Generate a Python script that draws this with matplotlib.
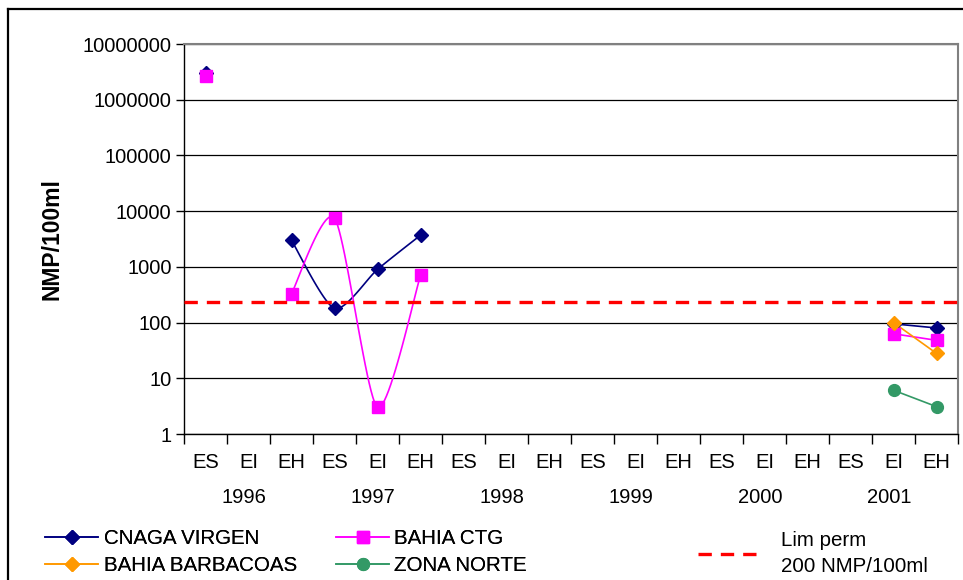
import numpy as np
import matplotlib
matplotlib.use('Agg')
import matplotlib.pyplot as plt
from matplotlib.lines import Line2D
from matplotlib.transforms import blended_transform_factory

plt.rcParams['font.family'] = ['Liberation Sans', 'DejaVu Sans']

# categories: season codes per year
seasons = ['ES', 'EI', 'EH']
years = ['1996', '1997', '1998', '1999', '2000', '2001']
tick_labels = seasons * len(years)

nan = np.nan
# NMP/100ml per campaign (18 campaigns, nan = no sample)
cnaga_virgen = [3000000, nan, 3000, 180, 900, 3700,
                nan, nan, nan, nan, nan, nan, nan, nan, nan, nan, 95, 80]
bahia_ctg = [2700000, nan, 330, 7500, 3, 700,
             nan, nan, nan, nan, nan, nan, nan, nan, nan, nan, 63, 48]
bahia_barbacoas = [nan, nan, nan, nan, nan, nan,
                   nan, nan, nan, nan, nan, nan, nan, nan, nan, nan, 100, 28]
zona_norte = [nan, nan, nan, nan, nan, nan,
              nan, nan, nan, nan, nan, nan, nan, nan, nan, nan, 6.1, 3.1]
lim_perm = 230


def smooth_segments(vals, n=24, k_t=1 / 8):
    # excel-like smoothed line: bezier through each run of points in (x, log y)
    vals = np.asarray(vals, float)
    xs = np.arange(len(vals))
    runs, cur = [], []
    for i, v in enumerate(vals):
        if np.isnan(v):
            if cur:
                runs.append(cur)
            cur = []
        else:
            cur.append(i)
    if cur:
        runs.append(cur)
    out = []
    for r in runs:
        if len(r) < 2:
            continue
        px = xs[r].astype(float)
        py = np.log10(vals[r])
        m = len(r) - 1
        cx, cy = [], []
        for k in range(m):
            a, b = max(k - 1, 0), min(k + 2, m)
            c1 = (px[k] + (px[k + 1] - px[a]) * k_t, py[k] + (py[k + 1] - py[a]) * k_t)
            c2 = (px[k + 1] - (px[b] - px[k]) * k_t, py[k + 1] - (py[b] - py[k]) * k_t)
            t = np.linspace(0, 1, n)
            w0, w1, w2, w3 = (1 - t) ** 3, 3 * (1 - t) ** 2 * t, 3 * (1 - t) * t ** 2, t ** 3
            cx.extend(w0 * px[k] + w1 * c1[0] + w2 * c2[0] + w3 * px[k + 1])
            cy.extend(w0 * py[k] + w1 * c1[1] + w2 * c2[1] + w3 * py[k + 1])
        out.append((np.array(cx), 10 ** np.array(cy)))
    return out


fig = plt.figure(figsize=(9.63, 5.8), dpi=100)
W, H = 963, 580
ax = fig.add_axes([184 / W, (H - 434) / H, (958 - 184) / W, (434 - 44) / H])

x = np.arange(len(tick_labels))
series = [
    ('CNAGA VIRGEN', cnaga_virgen, '#000080', 'D', 7, True),
    ('BAHIA CTG', bahia_ctg, '#FF00FF', 's', 8.5, True),
    ('BAHIA BARBACOAS', bahia_barbacoas, '#FF9900', 'D', 7, False),
    ('ZONA NORTE', zona_norte, '#339966', 'o', 8.5, False),
]
handles = {}
for name, vals, col, mk, ms, smooth in series:
    for sx, sy in smooth_segments(vals):
        ax.plot(sx, sy, color=col, lw=1.2, zorder=3)
    ax.plot(x, vals, ls='none', marker=mk, ms=ms, color=col,
            markeredgecolor=col, zorder=4)
    handles[name] = Line2D([], [], color=col, lw=1.2, marker=mk, ms=ms)

ax.axhline(lim_perm, color='#FF0000', lw=2.4, dashes=(4, 2.7), zorder=5)

ax.set_yscale('log')
ax.set_ylim(1, 1e7)
ax.set_yticks([10 ** k for k in range(8)])
ax.set_yticklabels([str(10 ** k) for k in range(8)])
ax.yaxis.set_minor_locator(matplotlib.ticker.NullLocator())
ax.grid(axis='y', which='major', color='#000000', lw=0.9)
ax.set_axisbelow(True)

ax.set_xlim(-0.5, len(tick_labels) - 0.5)
ax.set_xticks(np.arange(-0.5, len(tick_labels), 1))
ax.set_xticklabels([])
ax.set_xticks(x, minor=True)
ax.set_xticklabels(tick_labels, minor=True)
ax.tick_params(axis='x', which='minor', length=0, pad=14, labelsize=14.5)
ax.tick_params(axis='x', which='major', length=7, width=1, direction='out')
ax.tick_params(axis='y', length=6, width=1, labelsize=14.5, pad=3)

for s in ['top', 'right']:
    ax.spines[s].set_color('#808080')
    ax.spines[s].set_linewidth(1.5)
for s in ['left', 'bottom']:
    ax.spines[s].set_color('#000000')
    ax.spines[s].set_linewidth(1)

trans = blended_transform_factory(ax.transData, ax.transAxes)
for i, yr in enumerate(years):
    ax.text(3 * i + 1 - 0.1, -0.162, yr, transform=trans, ha='center',
            va='center', fontsize=14.5)

ax.set_ylabel('NMP/100ml', fontsize=16.5, fontweight='bold', labelpad=14)

leg1 = fig.legend([handles['CNAGA VIRGEN'], handles['BAHIA BARBACOAS'],
                   handles['BAHIA CTG'], handles['ZONA NORTE']],
                  ['CNAGA VIRGEN', 'BAHIA BARBACOAS', 'BAHIA CTG', 'ZONA NORTE'],
                  ncol=2, loc='upper left', bbox_to_anchor=(45 / W, 1 - 529 / H),
                  frameon=False, fontsize=14.8, handlelength=2.6,
                  handletextpad=0.25, columnspacing=1.9, labelspacing=0.38,
                  borderpad=0, borderaxespad=0)
lim_handle = Line2D([], [], color='#FF0000', lw=2.4, dashes=(4, 2.7))
leg2 = fig.legend([lim_handle], ['Lim perm\n200 NMP/100ml'], loc='upper left',
                  bbox_to_anchor=(698 / W, 1 - 531 / H), frameon=False,
                  fontsize=14.8, handlelength=2.9, handletextpad=1.15,
                  borderpad=0, borderaxespad=0)
for t in leg2.get_texts():
    t.set_linespacing(1.5)
fig.add_artist(leg1)

# outer chart frame
fig.add_artist(Line2D([8 / W, 8 / W], [0, 1 - 9 / H], color='black', lw=1.6,
                      transform=fig.transFigure))
fig.add_artist(Line2D([8 / W, 1], [1 - 9 / H, 1 - 9 / H], color='black', lw=1.6,
                      transform=fig.transFigure))

fig.savefig('out.png', dpi=100)
